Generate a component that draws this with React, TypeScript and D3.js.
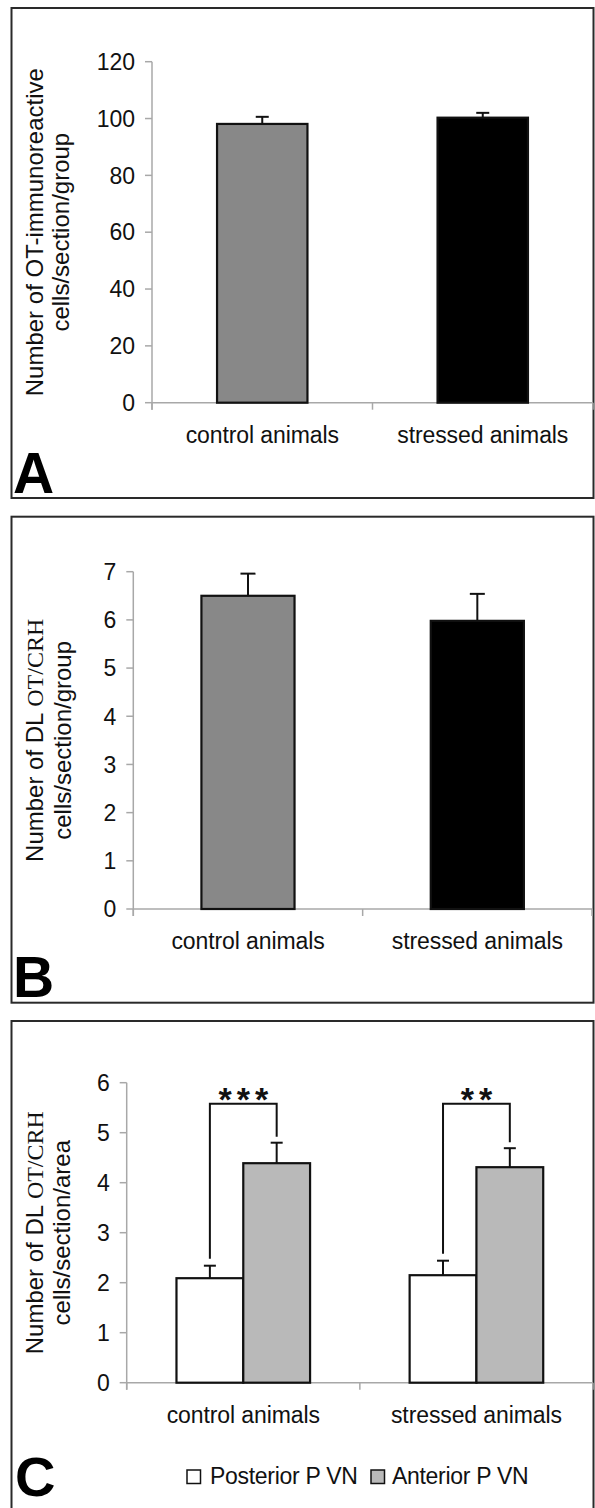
import * as d3 from 'd3'

// values (mean + SEM, only the upper whisker is drawn)
const groups = ['control animals', 'stressed animals']

const otMean = [98.1, 100.3]
const otSem = [2.5, 1.7]
const otTicks = [0, 20, 40, 60, 80, 100, 120]

const dlMean = [6.5, 5.98]
const dlSem = [0.46, 0.56]
const dlTicks = [0, 1, 2, 3, 4, 5, 6, 7]

const areas = ['Posterior P VN', 'Anterior P VN']
const posteriorMean = [2.09, 2.15]
const posteriorSem = [0.25, 0.29]
const anteriorMean = [4.39, 4.31]
const anteriorSem = [0.41, 0.38]
const areaTicks = [0, 1, 2, 3, 4, 5, 6]
const stars = ['***', '**']
const bracketLevel = 5.58

const W = 595
const H = 1508
const SANS = '"Liberation Sans", Arial, Helvetica, sans-serif'
const SERIF = '"Liberation Serif", "Times New Roman", serif'
const AXIS = '#a8a8a8'
const INK = '#111'

type Frame = { x0: number; x1: number; top: number; bottom: number }

function Axes({ f, y, ticks, x }: { f: Frame; y: d3.ScaleLinear<number, number>; ticks: number[]; x: d3.ScaleBand<string> }) {
  return (
    <g>
      <line x1={f.x0} x2={f.x0} y1={y(ticks[ticks.length - 1])} y2={f.bottom + 7} stroke={AXIS} strokeWidth={1.5} />
      <line x1={f.x0} x2={f.x1} y1={f.bottom} y2={f.bottom} stroke={AXIS} strokeWidth={1.5} />
      {ticks.map(t => (
        <g key={t}>
          <line x1={f.x0 - 7} x2={f.x0} y1={y(t)} y2={y(t)} stroke={AXIS} strokeWidth={1.5} />
          <text x={f.x0 - 17} y={y(t)} dy="0.36em" textAnchor="end" fontSize={23} fontFamily={SANS} fill={INK}>
            {t}
          </text>
        </g>
      ))}
      {d3.range(groups.length + 1).map(i => {
        const tx = f.x0 + ((f.x1 - f.x0) / groups.length) * i
        return <line key={i} x1={tx} x2={tx} y1={f.bottom} y2={f.bottom + 7} stroke={AXIS} strokeWidth={1.5} />
      })}
      {groups.map(g => (
        <text key={g} x={(x(g) as number) + x.bandwidth() / 2} y={f.bottom + 40} textAnchor="middle" fontSize={23} fontFamily={SANS} fill={INK} letterSpacing={-0.1}>
          {g}
        </text>
      ))}
    </g>
  )
}

function ErrorBar({ cx, y0, y1, cap }: { cx: number; y0: number; y1: number; cap: number }) {
  return (
    <g stroke={INK} strokeWidth={2}>
      <line x1={cx} x2={cx} y1={y0} y2={y1} />
      <line x1={cx - cap / 2} x2={cx + cap / 2} y1={y1} y2={y1} />
    </g>
  )
}

function Box({ x, y, w, h, letter, lx, ly, size = 57 }: { x: number; y: number; w: number; h: number; letter: string; lx: number; ly: number; size?: number }) {
  return (
    <g>
      <rect x={x} y={y} width={w} height={h} fill="none" stroke="#2a2a2a" strokeWidth={2} />
      <text x={lx} y={ly} fontSize={size} fontWeight="bold" fontFamily={SANS} fill="#000">
        {letter}
      </text>
    </g>
  )
}

function YLabel({ cy, line1, line2, x1 = 43, x2 = 69 }: { cy: number; line1: any; line2: string; x1?: number; x2?: number }) {
  return (
    <g fontFamily={SANS} fontSize={24} fill={INK} textAnchor="middle">
      <text transform={`translate(${x1},${cy}) rotate(-90)`}>{line1}</text>
      <text transform={`translate(${x2},${cy}) rotate(-90)`}>{line2}</text>
    </g>
  )
}

function GroupPanel({ f, max, ticks, mean, sem, fills, cap, label, pad }: any) {
  const x = d3.scaleBand<string>().domain(groups).range([f.x0, f.x1]).paddingInner(pad).paddingOuter(pad / 2)
  const y = d3.scaleLinear().domain([0, max]).range([f.bottom, f.top])
  return (
    <g>
      <Axes f={f} y={y} ticks={ticks} x={x} />
      {groups.map((g, i) => {
        const bx = x(g) as number
        return (
          <g key={g}>
            <ErrorBar cx={bx + x.bandwidth() / 2} y0={y(mean[i])} y1={y(mean[i] + sem[i])} cap={cap} />
            <rect x={bx} y={y(mean[i])} width={x.bandwidth()} height={y(0) - y(mean[i])} fill={fills[i]} stroke={INK} strokeWidth={2.2} />
          </g>
        )
      })}
      <YLabel cy={(f.top + f.bottom) / 2} line1={label[0]} line2={label[1]} x2={label[2]} />
    </g>
  )
}

function AreaPanel() {
  const f: Frame = { x0: 126.7, x1: 593, top: 1082.7, bottom: 1382.7 }
  const x = d3.scaleBand<string>().domain(groups).range([f.x0, f.x1]).paddingInner(0.427).paddingOuter(0.2135)
  const sub = d3.scaleBand<string>().domain(areas).range([0, x.bandwidth()])
  const y = d3.scaleLinear().domain([0, 6]).range([f.bottom, f.top])
  const series = [
    { name: areas[0], mean: posteriorMean, sem: posteriorSem, fill: '#ffffff' },
    { name: areas[1], mean: anteriorMean, sem: anteriorSem, fill: '#b9b9b9' },
  ]
  return (
    <g>
      <Axes f={f} y={y} ticks={areaTicks} x={x} />
      {groups.map((g, i) => (
        <g key={g}>
          {series.map(s => {
            const bx = (x(g) as number) + (sub(s.name) as number)
            return (
              <g key={s.name}>
                <ErrorBar cx={bx + sub.bandwidth() / 2} y0={y(s.mean[i])} y1={y(s.mean[i] + s.sem[i])} cap={12} />
                <rect x={bx} y={y(s.mean[i])} width={sub.bandwidth()} height={y(0) - y(s.mean[i])} fill={s.fill} stroke={INK} strokeWidth={2.2} />
              </g>
            )
          })}
          {(() => {
            const lx = (x(g) as number) + (sub(areas[0]) as number) + sub.bandwidth() / 2
            const rx = (x(g) as number) + (sub(areas[1]) as number) + sub.bandwidth() / 2
            const ly = y(posteriorMean[i] + posteriorSem[i]) - 7
            const ry = y(anteriorMean[i] + anteriorSem[i]) - 6
            const ty = y(bracketLevel)
            return (
              <g>
                <path d={`M${lx},${ly}V${ty}H${rx}V${ry}`} fill="none" stroke={INK} strokeWidth={2} />
                <text x={(lx + rx) / 2 + 2.5} y={ty + 7} textAnchor="middle" fontSize={34} fontWeight="bold" fontFamily={SANS} letterSpacing={5} fill={INK}>
                  {stars[i]}
                </text>
              </g>
            )
          })()}
        </g>
      ))}
      <YLabel
        cy={(f.top + f.bottom) / 2}
        line1={
          <>
            Number of DL <tspan fontFamily={SERIF}>OT/CRH</tspan>
          </>
        }
        line2="cells/section/area"
        x2={70}
      />
      {series.map((s, k) => (
        <g key={s.name}>
          <rect x={187 + k * 184} y={1470} width={13.5} height={13.5} fill={s.fill} stroke={INK} strokeWidth={1.5} />
          <text x={210 + k * 182} y={1483.5} fontSize={23} fontFamily={SANS} fill={INK} letterSpacing={-0.3}>
            {s.name}
          </text>
        </g>
      ))}
    </g>
  )
}

export default function App() {
  return (
    <svg width={W} height={H} viewBox={`0 0 ${W} ${H}`} style={{ position: 'absolute', left: 0, top: 0, background: '#fff' }}>
      <rect width={W} height={H} fill="#fff" />
      <Box x={11.5} y={8} w={582} h={490} letter="A" lx={13} ly={493} />
      <Box x={11.5} y={516.7} w={582} h={486} letter="B" lx={13} ly={997} />
      <Box x={11.5} y={1021} w={582} h={500} letter="C" lx={15} ly={1496} size={56} />

      <GroupPanel
        f={{ x0: 152, x1: 593, top: 61.7, bottom: 402.7 }}
        max={120}
        ticks={otTicks}
        mean={otMean}
        sem={otSem}
        fills={['#888888', '#000000']}
        cap={13}
        pad={0.59}
        label={['Number of OT-immunoreactive', 'cells/section/group', 69]}
      />
      <GroupPanel
        f={{ x0: 133.3, x1: 592, top: 571.7, bottom: 909 }}
        max={7}
        ticks={dlTicks}
        mean={dlMean}
        sem={dlSem}
        fills={['#888888', '#000000']}
        cap={15}
        pad={0.594}
        label={[
          <>
            Number of DL <tspan fontFamily={SERIF}>OT/CRH</tspan>
          </>,
          'cells/section/group',
          71,
        ]}
      />
      <AreaPanel />
    </svg>
  )
}
